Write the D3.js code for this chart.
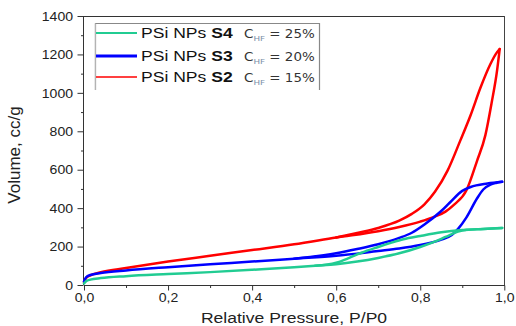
<!DOCTYPE html>
<html><head><meta charset="utf-8">
<script src="https://cdn.jsdelivr.net/npm/d3@7"></script>
<style>
html,body{margin:0;padding:0;background:#fff;}
svg{display:block;font-family:"Liberation Sans",Arial,sans-serif;}
</style></head>
<body><svg id="c" width="516" height="326"></svg>
<script>
// ---- data ----
const xTicks = [0, 0.2, 0.4, 0.6, 0.8, 1.0];
const yTicks = [0, 200, 400, 600, 800, 1000, 1200, 1400];
const xLabel = "Relative Pressure, P/P0";
const yLabel = "Volume, cc/g";

const legendNames = ["S4", "S3", "S2"];
const legendConc = ["25%", "20%", "15%"];
const seriesColors = ["#21cc92", "#0000ff", "#ff0000"];

// S2 (red)
const s2AdsP = [0, 0.005, 0.015, 0.04, 0.1, 0.2, 0.3, 0.4, 0.5, 0.6, 0.7, 0.75, 0.8, 0.83, 0.86, 0.88, 0.91, 0.935, 0.955, 0.97, 0.983, 0.989];
const s2AdsV = [15, 36, 50, 66, 88, 122, 152, 182, 212, 247, 280, 302, 330, 352, 382, 417, 493, 645, 780, 950, 1120, 1228];
const s2DesP = [0.6, 0.65, 0.7, 0.75, 0.78, 0.81, 0.835, 0.865, 0.895, 0.92, 0.943, 0.967, 0.98, 0.989];
const s2DesV = [247, 271, 297, 335, 370, 420, 485, 595, 750, 885, 1025, 1150, 1203, 1228];
// S3 (blue)
const s3AdsP = [0, 0.005, 0.015, 0.04, 0.1, 0.2, 0.3, 0.4, 0.5, 0.6, 0.7, 0.75, 0.8, 0.825, 0.85, 0.875, 0.89, 0.91, 0.935, 0.95, 0.967, 0.98, 0.995];
const s3AdsV = [18, 40, 52, 62, 76, 93, 108, 122, 137, 152, 177, 190, 208, 220, 236, 260, 292, 352, 450, 497, 522, 531, 537];
const s3DesP = [0.5, 0.6, 0.65, 0.7, 0.75, 0.78, 0.81, 0.85, 0.87, 0.9, 0.92, 0.96, 0.995];
const s3DesV = [137, 165, 187, 212, 245, 272, 315, 385, 428, 490, 510, 528, 537];
// S4 (green)
const s4AdsP = [0, 0.005, 0.015, 0.04, 0.1, 0.2, 0.3, 0.4, 0.5, 0.55, 0.6, 0.65, 0.7, 0.75, 0.8, 0.83, 0.86, 0.89, 0.91, 0.95, 0.995];
const s4AdsV = [8, 20, 28, 36, 46, 57, 67, 79, 92, 100, 108, 122, 141, 165, 198, 222, 250, 278, 287, 292, 297];
const s4DesP = [0.55, 0.6, 0.63, 0.66, 0.7, 0.73, 0.76, 0.8, 0.85, 0.9, 0.95, 0.995];
const s4DesV = [100, 116, 140, 168, 198, 219, 238, 255, 274, 286, 292, 297];

// ---- layout ----
const svg = d3.select("#c");
const L = 84, R = 505, T = 16, B = 285;
const SX = 1.17;
const x = d3.scaleLinear().domain([0, 1]).range([L, 504.3]);
const y = d3.scaleLinear().domain([0, 1400]).range([B, T]);
const axisColor = "#333";

// frame (top/right)
svg.append("line").attr("x1", L).attr("x2", R).attr("y1", T + 0.5).attr("y2", T + 0.5).attr("stroke", axisColor);
svg.append("line").attr("x1", R - 0.5).attr("x2", R - 0.5).attr("y1", T).attr("y2", B).attr("stroke", "#444");

const fmtX = d => d3.format(".1f")(d).replace(".", ",");
const fmtY = d3.format("d");

// minor ticks
const xMinor = d3.range(0.1, 1.0, 0.2);
const yMinor = d3.range(100, 1400, 200);
svg.append("g").attr("transform", `translate(0,${B})`)
  .call(d3.axisBottom(x).tickValues(xMinor).tickSize(3).tickFormat(""))
  .call(g => g.select(".domain").remove())
  .selectAll("line").attr("stroke", axisColor);
svg.append("g").attr("transform", `translate(${L},0)`)
  .call(d3.axisLeft(y).tickValues(yMinor).tickSize(3).tickFormat(""))
  .call(g => g.select(".domain").remove())
  .selectAll("line").attr("stroke", axisColor);

// major axes
const gx = svg.append("g").attr("transform", `translate(0,${B + 0.5})`)
  .call(d3.axisBottom(x).tickValues(xTicks).tickSize(5).tickSizeOuter(0).tickFormat(fmtX));
gx.select(".domain").attr("stroke", axisColor).attr("d", `M${L},0H${R}`);
gx.selectAll("line").attr("stroke", axisColor);
gx.selectAll("text").attr("y", 17).attr("dy", null)
  .attr("transform", `scale(${SX},1)`)
  .attr("font-size", 12).attr("font-family", "Liberation Sans, Arial, sans-serif").attr("fill", "#222");

const gy = svg.append("g").attr("transform", `translate(${L - 0.5},0)`)
  .call(d3.axisLeft(y).tickValues(yTicks).tickSize(6).tickSizeOuter(0).tickFormat(fmtY));
gy.select(".domain").attr("stroke", axisColor).attr("d", `M0,${T}V${B}`);
gy.selectAll("line").attr("stroke", axisColor);
gy.selectAll("text").attr("x", -10.5 / SX).attr("dy", "0.35em")
  .attr("transform", `scale(${SX},1)`)
  .attr("font-size", 12).attr("font-family", "Liberation Sans, Arial, sans-serif").attr("fill", "#222");

// axis titles
svg.append("text").attr("transform", `translate(294,323) scale(${SX},1)`)
  .attr("text-anchor", "middle").attr("font-size", 15).attr("fill", "#222").text(xLabel);
svg.append("text").attr("transform", "translate(20,155) rotate(-90)")
  .attr("text-anchor", "middle").attr("font-size", 17).attr("fill", "#222").text(yLabel);

// curves
const line = d3.line().x(d => x(d[0])).y(d => y(d[1])).curve(d3.curveMonotoneX);
const series = [
  { c: seriesColors[2], ads: [s2AdsP, s2AdsV], des: [s2DesP, s2DesV] },
  { c: seriesColors[1], ads: [s3AdsP, s3AdsV], des: [s3DesP, s3DesV] },
  { c: seriesColors[0], ads: [s4AdsP, s4AdsV], des: [s4DesP, s4DesV] }
];
series.forEach(s => {
  [s.ads, s.des].forEach(br => {
    const pts = br[0].map((p, i) => [p, br[1][i]]);
    svg.append("path").attr("d", line(pts)).attr("fill", "none")
      .attr("stroke", s.c).attr("stroke-width", 2.5).attr("stroke-linejoin", "round").attr("stroke-linecap", "round");
  });
});

// legend
const lg = svg.append("g");
lg.append("path").attr("d", "M95.5,90V23.5H319.5V90").attr("fill", "none").attr("stroke", "#888").attr("stroke-width", 1.2);
lg.append("path").attr("d", "M95,90V23.5").attr("stroke", "#ddd").attr("fill", "none");
const legendY = [33, 56, 77];
const legendW = [2, 3, 1.6];
const baseY = [38, 61, 82];
legendNames.forEach((n, i) => {
  lg.append("line").attr("x1", 96).attr("x2", 137).attr("y1", legendY[i]).attr("y2", legendY[i])
    .attr("stroke", seriesColors[i]).attr("stroke-width", legendW[i]);
  const t = lg.append("text").attr("transform", `translate(141,${baseY[i]}) scale(${SX},1)`)
    .attr("font-size", 15).attr("fill", "#111");
  t.append("tspan").text("PSi NPs ");
  t.append("tspan").attr("font-weight", "bold").text(n);
  const c = lg.append("text").attr("transform", `translate(244,${baseY[i]}) scale(${SX},1)`)
    .attr("font-family", "DejaVu Sans, sans-serif").attr("font-size", 11.5).attr("fill", "#333");
  c.append("tspan").text("C");
  c.append("tspan").attr("font-size", 7.5).attr("dy", 3).attr("fill", "#7a8fa8").text("HF");
  c.append("tspan").attr("dy", -3).text(" = " + legendConc[i]);
});
</script>
</body></html>
